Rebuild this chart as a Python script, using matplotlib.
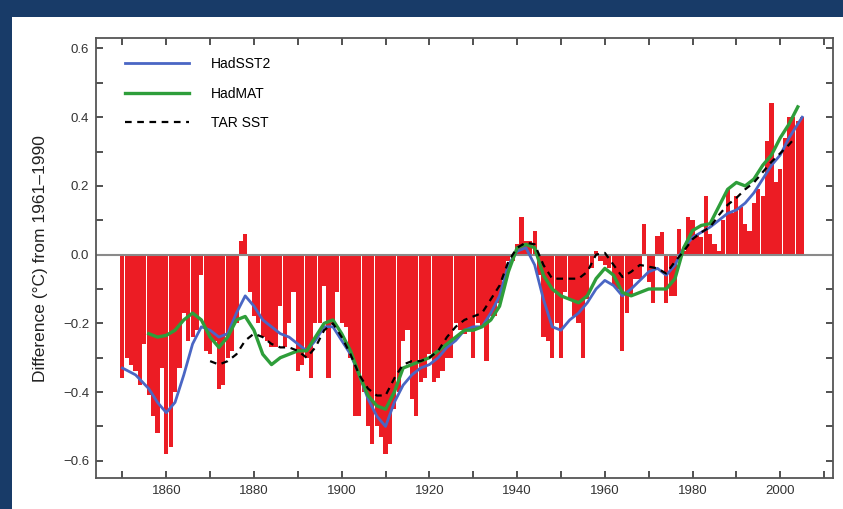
import numpy as np
import matplotlib.pyplot as plt
from matplotlib.patches import Rectangle

plt.rcParams['font.family'] = ['Liberation Sans', 'DejaVu Sans']

# Annual HadSST2 anomalies (bars), 1850-2005
years = np.arange(1850, 2006)
anomaly = [
    -0.36, -0.30, -0.32, -0.34, -0.38, -0.26, -0.41, -0.47, -0.52, -0.33,  # 1850s
    -0.58, -0.56, -0.40, -0.33, -0.17, -0.25, -0.24, -0.22, -0.06, -0.28,  # 1860s
    -0.29, -0.25, -0.39, -0.38, -0.30, -0.28, -0.20, 0.04, 0.06, -0.11,    # 1870s
    -0.18, -0.20, -0.24, -0.25, -0.27, -0.27, -0.15, -0.27, -0.20, -0.11,  # 1880s
    -0.34, -0.32, -0.30, -0.36, -0.20, -0.20, -0.09, -0.36, -0.20, -0.11,  # 1890s
    -0.20, -0.21, -0.30, -0.47, -0.47, -0.40, -0.50, -0.55, -0.50, -0.53,  # 1900s
    -0.58, -0.55, -0.45, -0.40, -0.25, -0.22, -0.42, -0.47, -0.37, -0.36,  # 1910s
    -0.29, -0.37, -0.36, -0.34, -0.30, -0.30, -0.20, -0.22, -0.23, -0.22,  # 1920s
    -0.30, -0.20, -0.21, -0.31, -0.18, -0.18, -0.14, -0.07, -0.02, -0.02,  # 1930s
    0.03, 0.11, 0.04, 0.04, 0.07, -0.06, -0.24, -0.25, -0.30, -0.20,       # 1940s
    -0.30, -0.11, -0.13, -0.18, -0.20, -0.30, -0.13, -0.04, 0.01, -0.02,   # 1950s
    -0.03, -0.04, -0.09, -0.10, -0.28, -0.17, -0.12, -0.07, -0.07, 0.09,   # 1960s
    -0.08, -0.14, 0.055, 0.065, -0.14, -0.12, -0.12, 0.075, 0.01, 0.11,    # 1970s
    0.10, 0.06, 0.05, 0.17, 0.06, 0.03, 0.01, 0.10, 0.19, 0.12,            # 1980s
    0.17, 0.14, 0.09, 0.07, 0.15, 0.19, 0.17, 0.33, 0.44, 0.21,            # 1990s
    0.25, 0.34, 0.40, 0.40, 0.39, 0.40,                                    # 2000s
]

# Smoothed curves
sst2_years = [1850, 1853, 1856, 1858, 1860, 1862, 1864, 1866, 1868, 1870, 1872,
              1874, 1876, 1878, 1880, 1882, 1884, 1886, 1888, 1890, 1892, 1894,
              1896, 1898, 1900, 1902, 1904, 1906, 1908, 1910, 1912, 1914, 1916,
              1918, 1920, 1922, 1924, 1926, 1928, 1930, 1932, 1934, 1936, 1938,
              1940, 1942, 1944, 1946, 1948, 1950, 1952, 1954, 1956, 1958, 1960,
              1962, 1964, 1966, 1968, 1970, 1972, 1974, 1976, 1978, 1980, 1982,
              1984, 1986, 1988, 1990, 1992, 1994, 1996, 1998, 2000, 2002, 2004,
              2005]
sst2_vals = [-0.33, -0.35, -0.39, -0.43, -0.46, -0.43, -0.35, -0.26, -0.21, -0.22,
             -0.24, -0.23, -0.17, -0.12, -0.15, -0.19, -0.21, -0.23, -0.24, -0.26,
             -0.28, -0.25, -0.21, -0.21, -0.25, -0.29, -0.35, -0.42, -0.47, -0.50,
             -0.43, -0.38, -0.35, -0.33, -0.32, -0.30, -0.27, -0.25, -0.22, -0.21,
             -0.21, -0.17, -0.12, -0.03, 0.01, 0.02, -0.03, -0.13, -0.21, -0.22,
             -0.19, -0.17, -0.14, -0.10, -0.075, -0.09, -0.12, -0.10, -0.075, -0.05,
             -0.04, -0.06, -0.03, 0.02, 0.05, 0.065, 0.08, 0.10, 0.12, 0.13, 0.15,
             0.18, 0.22, 0.26, 0.29, 0.34, 0.38, 0.40]

mat_years = [1856, 1858, 1860, 1862, 1864, 1866, 1868, 1870, 1872, 1874, 1876,
             1878, 1880, 1882, 1884, 1886, 1888, 1890, 1892, 1894, 1896, 1898,
             1900, 1902, 1904, 1906, 1908, 1910, 1912, 1914, 1916, 1918, 1920,
             1922, 1924, 1926, 1928, 1930, 1932, 1934, 1936, 1938, 1940, 1942,
             1944, 1946, 1948, 1950, 1952, 1954, 1956, 1958, 1960, 1962, 1964,
             1966, 1968, 1970, 1972, 1974, 1976, 1978, 1980, 1982, 1984, 1986,
             1988, 1990, 1992, 1994, 1996, 1998, 2000, 2002, 2004]
mat_vals = [-0.23, -0.24, -0.235, -0.22, -0.19, -0.17, -0.19, -0.24, -0.27, -0.24,
            -0.19, -0.18, -0.22, -0.29, -0.32, -0.30, -0.29, -0.28, -0.28, -0.24,
            -0.20, -0.19, -0.23, -0.28, -0.35, -0.41, -0.44, -0.45, -0.40, -0.33,
            -0.32, -0.31, -0.30, -0.28, -0.26, -0.24, -0.22, -0.22, -0.21, -0.19,
            -0.15, -0.05, 0.02, 0.03, 0.02, -0.06, -0.10, -0.12, -0.13, -0.14,
            -0.12, -0.07, -0.04, -0.06, -0.11, -0.12, -0.11, -0.10, -0.10, -0.10,
            -0.07, 0.02, 0.07, 0.085, 0.09, 0.14, 0.19, 0.21, 0.20, 0.22, 0.26,
            0.29, 0.34, 0.38, 0.43]

tar_years = [1870, 1872, 1874, 1876, 1878, 1880, 1882, 1884, 1886, 1888, 1890,
             1892, 1894, 1896, 1898, 1900, 1902, 1904, 1906, 1908, 1910, 1912,
             1914, 1916, 1918, 1920, 1922, 1924, 1926, 1928, 1930, 1932, 1934,
             1936, 1938, 1940, 1942, 1944, 1946, 1948, 1950, 1952, 1954, 1956,
             1958, 1960, 1962, 1964, 1966, 1968, 1970, 1972, 1974, 1976, 1978,
             1980, 1982, 1984, 1986, 1988, 1990, 1992, 1994, 1996, 1998, 2000,
             2002, 2003]
tar_vals = [-0.31, -0.32, -0.31, -0.29, -0.25, -0.23, -0.24, -0.26, -0.27, -0.27,
            -0.28, -0.30, -0.27, -0.22, -0.20, -0.24, -0.29, -0.35, -0.39, -0.41,
            -0.41, -0.36, -0.32, -0.31, -0.31, -0.30, -0.28, -0.24, -0.21, -0.19,
            -0.18, -0.17, -0.13, -0.09, -0.02, 0.02, 0.035, 0.03, -0.03, -0.07,
            -0.07, -0.07, -0.07, -0.05, 0.0, 0.005, -0.03, -0.065, -0.05, -0.03,
            -0.035, -0.04, -0.055, -0.02, 0.01, 0.045, 0.065, 0.08, 0.115, 0.145,
            0.165, 0.19, 0.21, 0.24, 0.27, 0.295, 0.32, 0.335]

yticks = [-0.6, -0.5, -0.4, -0.3, -0.2, -0.1, 0.0, 0.1, 0.2, 0.3, 0.4, 0.5, 0.6]
ylabels = ['\u22120.6', '', '\u22120.4', '', '\u22120.2', '', '0.0', '', '0.2', '',
           '0.4', '', '0.6']

fig = plt.figure(figsize=(8.43, 5.09), dpi=100)
fig.patch.set_facecolor('#183b68')
# white panel
fig.add_artist(Rectangle((0.014, 0.0), 0.986, 0.967, transform=fig.transFigure,
                         facecolor='white', edgecolor='none', zorder=0))

ax = fig.add_axes([0.114, 0.061, 0.874, 0.864])
ax.set_facecolor('white')

ax.bar(years, anomaly, width=0.95, color='#ec1c24', linewidth=0, zorder=1)
ax.axhline(0, color='#8a8a8a', lw=1.5, zorder=2)

ax.plot(sst2_years, sst2_vals, color='#4a66c4', lw=2.0, label='HadSST2', zorder=3)
ax.plot(mat_years, mat_vals, color='#2e9e3a', lw=2.4, label='HadMAT', zorder=4)
ax.plot(tar_years, tar_vals, color='black', lw=1.6, ls=(0, (3, 2.5)),
        label='TAR SST', zorder=5)

ax.set_xlim(1844, 2012)
ax.set_ylim(-0.65, 0.63)
ax.set_xticks(np.arange(1850, 2011, 10))
ax.set_xticklabels(['' if y % 20 else str(y) for y in range(1850, 2011, 10)])
ax.set_yticks(yticks)
ax.set_yticklabels(ylabels)
ax.tick_params(direction='in', length=5, width=1.2, top=True, right=True,
               labelsize=9.5, colors='#333333', pad=5)
for s in ax.spines.values():
    s.set_color('#555555')
    s.set_linewidth(1.3)

ax.set_ylabel('Difference (°C) from 1961\u20131990', fontsize=12.5, color='#222222',
              labelpad=11)

ax.legend(loc='upper left', frameon=False, fontsize=10, handlelength=4.6,
          handletextpad=1.6, labelspacing=1.1, bbox_to_anchor=(0.022, 0.985))

plt.savefig('out.png', dpi=100, facecolor=fig.get_facecolor())
